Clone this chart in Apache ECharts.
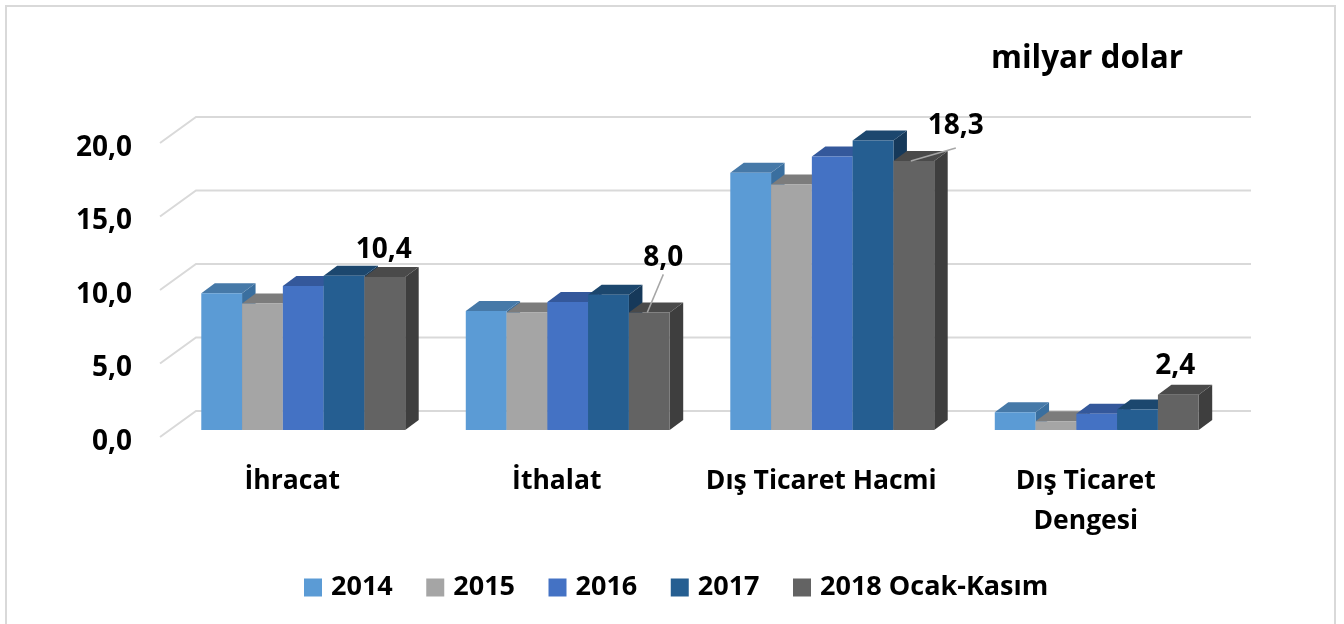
<!DOCTYPE html>
<html>
<head>
<meta charset="utf-8">
<script src="https://cdn.jsdelivr.net/npm/echarts@6/dist/echarts.min.js"></script>
<style>
html, body { margin: 0; padding: 0; background: #fff; overflow: hidden; }
#frame { position: absolute; left: 5px; top: 5px; width: 1327px; height: 640px; border: 2px solid #d9d9d9; }
#main { position: absolute; left: 0; top: 0; width: 1344px; height: 624px; }
</style>
</head>
<body>
<div id="frame"></div>
<div id="main"></div>
<script>
var categories = ['İhracat', 'İthalat', 'Dış Ticaret Hacmi', 'Dış Ticaret\nDengesi'];
var years = ['2014', '2015', '2016', '2017', '2018 Ocak-Kasım'];
var values2014 = [9.3, 8.1, 17.5, 1.2];
var values2015 = [8.6, 8.0, 16.7, 0.6];
var values2016 = [9.8, 8.7, 18.6, 1.1];
var values2017 = [10.5, 9.2, 19.7, 1.4];
var values2018 = [10.4, 8.0, 18.3, 2.4];
var yTicks = [0, 5, 10, 15, 20];
var colors = ['#5b9bd5', '#a5a5a5', '#4472c4', '#255e91', '#636363'];
var topColors = ['#4679a8', '#7c7c7c', '#34589b', '#1c476e', '#4a4a4a'];
var sideColors = ['#3a6f9f', '#6e6e6e', '#2c4f8a', '#16395a', '#3e3e3e'];

var FONT = '"Open Sans"';
// derinlik: duvar ve sutun kaydirmalari
var WALL_DX = 36, WALL_DY = 26, WALL_TRIM = 3;
var BAR_SHIFT_X = 11, BAR_SHIFT_Y = 7;
var BAR_DX = 13.5, BAR_DY = 10;
var GROUP_WIDTH = 0.771;
// etiket konumu: son sutunun ust ortasina gore
var labelOffset = [[-1, -27], [14, -54], [42, -35], [-3, -29]];
var leaderLine = [null, [[-2, 0], [14, -38]], [[-3, 0], [42, -13]], null];

function fmt(v) {
    return v.toFixed(1).replace('.', ',');
}

function renderGrid(params, api) {
    var y = api.coord([0, api.value(0)])[1];
    var rect = params.coordSys;
    return {
        type: 'polyline',
        shape: { points: [
            [rect.x, y],
            [rect.x + WALL_DX, y - WALL_DY],
            [rect.x + rect.width + WALL_DX - WALL_TRIM, y - WALL_DY]
        ] },
        style: { stroke: '#d9d9d9', lineWidth: 2, fill: null }
    };
}

function makeRender(index) {
    return function (params, api) {
        var cat = api.value(0);
        var val = api.value(1);
        var top = api.coord([cat, val]);
        var base = api.coord([cat, 0]);
        var groupW = api.size([1, 0])[0] * GROUP_WIDTH;
        var w = groupW / years.length;
        var x0 = top[0] - groupW / 2 + w * index + BAR_SHIFT_X;
        var x1 = x0 + w;
        var y0 = top[1] - BAR_SHIFT_Y;
        var y1 = base[1] - BAR_SHIFT_Y;
        var children = [
            {
                type: 'polygon',
                shape: { points: [[x1, y0], [x1 + BAR_DX, y0 - BAR_DY], [x1 + BAR_DX, y1 - BAR_DY], [x1, y1]] },
                style: { fill: sideColors[index] }
            },
            {
                type: 'polygon',
                shape: { points: [[x0, y0], [x0 + BAR_DX, y0 - BAR_DY], [x1 + BAR_DX, y0 - BAR_DY], [x1, y0]] },
                style: { fill: topColors[index] }
            },
            {
                type: 'rect',
                shape: { x: x0, y: y0, width: w, height: y1 - y0 },
                style: { fill: colors[index] }
            }
        ];
        if (index === years.length - 1) {
            var cx = (x0 + x1) / 2;
            var off = labelOffset[cat];
            var line = leaderLine[cat];
            if (line) {
                children.push({
                    type: 'line',
                    shape: { x1: cx + line[0][0], y1: y0 + line[0][1], x2: cx + line[1][0], y2: y0 + line[1][1] },
                    style: { stroke: '#a6a6a6', lineWidth: 1.5 }
                });
            }
            children.push({
                type: 'text',
                style: {
                    x: cx + off[0], y: y0 + off[1],
                    text: fmt(val),
                    fill: '#000',
                    font: 'bold 28px ' + FONT,
                    textAlign: 'center',
                    textVerticalAlign: 'middle'
                }
            });
        }
        return { type: 'group', children: children };
    };
}

var allValues = [values2014, values2015, values2016, values2017, values2018];

var series = [{
    name: 'grid',
    type: 'custom',
    silent: true,
    renderItem: renderGrid,
    encode: { y: 0 },
    data: yTicks.map(function (t) { return [t]; })
}];

for (var i = 0; i < years.length; i++) {
    series.push({
        name: years[i],
        type: 'custom',
        renderItem: makeRender(i),
        itemStyle: { color: colors[i] },
        encode: { x: 0, y: 1 },
        data: allValues[i].map(function (v, c) { return [c, v]; })
    });
}

var myChart = echarts.init(document.getElementById('main'));

var option = {
    animation: false,
    title: {
        text: 'milyar dolar',
        left: 986,
        top: 38,
        textStyle: { fontFamily: FONT, fontWeight: 'bold', fontSize: 31.5, color: '#000' }
    },
    legend: {
        data: years,
        left: 299,
        top: 569,
        icon: 'rect',
        itemWidth: 18,
        itemHeight: 18,
        itemGap: 33.5,
        textStyle: { fontFamily: FONT, fontWeight: 'bold', fontSize: 27, color: '#000', padding: [0, 0, 0, 4] }
    },
    grid: { left: 160, width: 1058, top: 143, height: 294 },
    xAxis: {
        type: 'category',
        data: categories,
        axisLine: { show: false },
        axisTick: { show: false },
        axisLabel: {
            interval: 0,
            margin: 24,
            color: '#000',
            fontFamily: FONT,
            fontWeight: 'bold',
            fontSize: 26.5,
            lineHeight: 40
        }
    },
    yAxis: {
        type: 'value',
        min: 0,
        max: 20,
        interval: 5,
        axisLine: { show: false },
        axisTick: { show: false },
        splitLine: { show: false },
        axisLabel: {
            margin: 28,
            verticalAlign: 'top',
            lineHeight: 10,
            color: '#000',
            fontFamily: FONT,
            fontWeight: 'bold',
            fontSize: 28,
            formatter: fmt
        }
    },
    series: series
};

myChart.setOption(option);
</script>
</body>
</html>
